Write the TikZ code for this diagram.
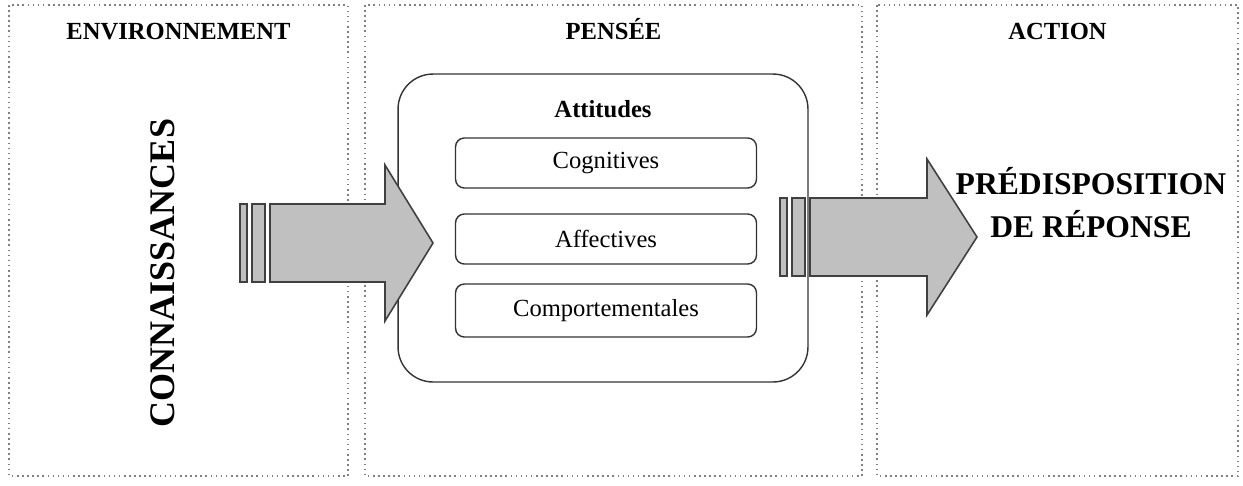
\documentclass[tikz,border=0pt]{standalone}
\usepackage{fontspec}
\setmainfont{Liberation Serif}
\begin{document}
\begin{tikzpicture}[x=0.02cm,y=-0.02cm,line width=0.8pt]
  \definecolor{arrowfill}{HTML}{C0C0C0}
  \tikzset{
    panel/.style={draw=black!50,dotted,line width=0.9pt},
    heading/.style={anchor=base,font=\fontsize{14}{16}\selectfont\bfseries},
    bigbox/.style={draw=black!80,rounded corners=0.7cm,minimum width=8.2cm,minimum height=6.16cm},
    subbox/.style={draw=black!80,rounded corners=5pt,minimum width=6.02cm,minimum height=1cm,
                   font=\fontsize{14}{16}\selectfont},
    bigarrow/.style={fill=arrowfill,draw=black!75,line width=0.9pt,line join=miter},
  }
  \useasboundingbox (0,0) rectangle (1243,485);
  % three panels
  \foreach \xa/\xb in {9/348,365/862,877/1238} {
    \draw[panel] (\xa,5) rectangle (\xb,476);
  }
  \node[heading] (env) at (178.5,39) {ENVIRONNEMENT};
  \node[heading] (pen) at (613.5,39) {PENSÉE};
  \node[heading] (act) at (1057.5,39) {ACTION};
  % attitudes
  \node[bigbox] (att) at (603,228) {};
  \node[heading] (attlab) at (603,117) {Attitudes};
  \node[subbox] (cog) at (606,163) {Cognitives};
  \node[subbox] (aff) at (606,239) {Affectives};
  \node[subbox,minimum height=1.06cm] (comp) at (606,310.5) {Comportementales};
  % arrows
  \draw[bigarrow] (240,204) rectangle (247,282);
  \draw[bigarrow] (252,204) rectangle (265,282);
  \draw[bigarrow] (270,204) -- (385,204) -- (385,165) -- (433,243)
    -- (385,321) -- (385,282) -- (270,282) -- cycle;
  \draw[bigarrow] (780,198) rectangle (787,276);
  \draw[bigarrow] (792,198) rectangle (805,276);
  \draw[bigarrow] (810,198) -- (927,198) -- (927,159) -- (977,237)
    -- (927,315) -- (927,276) -- (810,276) -- cycle;
  % big labels
  \node[rotate=90,font=\fontsize{20.5}{24}\selectfont\bfseries] (conn) at (163,273) {CONNAISSANCES};
  \node[align=center,font=\fontsize{18}{24.4}\selectfont\bfseries] (pred) at (1091,203)
    {PRÉDISPOSITION\\DE RÉPONSE};
\end{tikzpicture}
\end{document}
